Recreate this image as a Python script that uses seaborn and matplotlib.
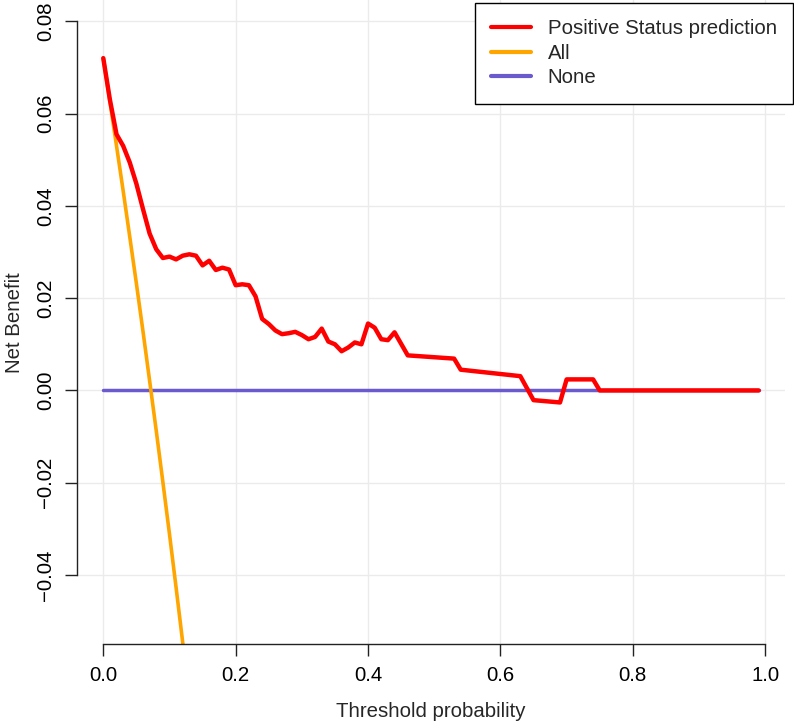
import numpy as np
import pandas as pd
import matplotlib
matplotlib.use("Agg")
import matplotlib.pyplot as plt
import seaborn as sns

# Decision curve data
model_x = [0.00, 0.01, 0.02, 0.03, 0.04, 0.05, 0.06, 0.07, 0.08, 0.09,
           0.10, 0.11, 0.12, 0.13, 0.14, 0.15, 0.16, 0.17, 0.18, 0.19,
           0.20, 0.21, 0.22, 0.23, 0.24, 0.25, 0.26, 0.27, 0.28, 0.29,
           0.30, 0.31, 0.32, 0.33, 0.34, 0.35, 0.36, 0.37, 0.38, 0.39,
           0.40, 0.41, 0.42, 0.43, 0.44, 0.45, 0.46, 0.53, 0.54, 0.63,
           0.65, 0.69, 0.70, 0.74, 0.75, 0.99]
model_y = [0.0720, 0.0630, 0.0555, 0.0530, 0.0494, 0.0448, 0.0393, 0.0340, 0.0306, 0.0287,
           0.0290, 0.0284, 0.0292, 0.0295, 0.0292, 0.0271, 0.0281, 0.0261, 0.0266, 0.0262,
           0.0228, 0.0230, 0.0228, 0.0204, 0.0155, 0.0144, 0.0130, 0.0122, 0.0124, 0.0127,
           0.0120, 0.0111, 0.0116, 0.0134, 0.0106, 0.0100, 0.0085, 0.0093, 0.0104, 0.0100,
           0.0145, 0.0136, 0.0111, 0.0109, 0.0126, 0.0101, 0.0076, 0.0069, 0.0045, 0.0031,
           -0.0021, -0.0026, 0.0024, 0.0024, 0.0000, 0.0000]

all_x = [0.00, 0.01, 0.02, 0.03, 0.04, 0.05, 0.06, 0.07, 0.08, 0.09, 0.10, 0.11, 0.12, 0.13]
all_y = [0.0720, 0.0626, 0.0530, 0.0433, 0.0333, 0.0232, 0.0128, 0.0021,
         -0.0087, -0.0198, -0.0311, -0.0427, -0.0546, -0.0667]

none_x = [0.00, 0.99]
none_y = [0.0, 0.0]

labels = ["Positive Status prediction", "All", "None"]
colors = ["#FF0000", "#FFA500", "#6A5ACD"]

sns.set_theme(style="white")
plt.rcParams['font.family'] = ['Liberation Sans', 'DejaVu Sans']
fs = 14.7

fig = plt.figure(figsize=(7.94, 7.25), dpi=100)
ax = fig.add_axes([77/794, 1 - 644.3/725, 708/794, 644.3/725])

# grid
for gx in [0.0, 0.2, 0.4, 0.6, 0.8, 1.0]:
    ax.axvline(gx, color="#EBEBEB", lw=1.0, zorder=0)
for gy in [-0.04, -0.02, 0.0, 0.02, 0.04, 0.06, 0.08]:
    ax.axhline(gy, color="#EBEBEB", lw=1.0, zorder=0)

sns.lineplot(x=none_x, y=none_y, color=colors[2], lw=2.5, ax=ax, label=labels[2],
             sort=False, estimator=None)
sns.lineplot(x=all_x, y=all_y, color=colors[1], lw=2.6, ax=ax, label=labels[1],
             sort=False, estimator=None)
sns.lineplot(x=model_x, y=model_y, color=colors[0], lw=3.2, ax=ax, label=labels[0],
             sort=False, estimator=None)

ax.set_xlim(-0.0397, 1.0299)
ax.set_ylim(-0.0550, 0.0846)

ax.set_xticks([0.0, 0.2, 0.4, 0.6, 0.8, 1.0])
ax.set_xticklabels(["0.0", "0.2", "0.4", "0.6", "0.8", "1.0"])
ax.set_yticks([-0.04, -0.02, 0.0, 0.02, 0.04, 0.06, 0.08])
ax.set_yticklabels(["\u22120.04", "\u22120.02", "0.00", "0.02", "0.04", "0.06", "0.08"])
for lbl in ax.get_yticklabels():
    lbl.set_rotation(90)
    lbl.set_va("center")
    lbl.set_ha("right")

ax.tick_params(axis="both", length=8.9, width=1.0, pad=6.6, labelsize=fs,
               colors="#222222", labelcolor="black", direction="out",
               bottom=True, left=True)

for side in ["top", "right"]:
    ax.spines[side].set_visible(False)
ax.spines["left"].set_bounds(-0.04, 0.08)
ax.spines["bottom"].set_bounds(0.0, 1.0)
for side in ["left", "bottom"]:
    ax.spines[side].set_color("#222222")
    ax.spines[side].set_linewidth(1.0)

ax.set_xlabel("Threshold probability", fontsize=fs, labelpad=12.5)
ax.set_ylabel("Net Benefit", fontsize=fs, labelpad=9)

handles, lbls = ax.get_legend_handles_labels()
order = [lbls.index(l) for l in labels]
leg = ax.legend([handles[i] for i in order], [lbls[i] for i in order],
                loc="upper right", bbox_to_anchor=(793/794, 1 - 2.7/725),
                bbox_transform=fig.transFigure, borderaxespad=0,
                fontsize=fs, frameon=True, fancybox=False, framealpha=1,
                edgecolor="black", handlelength=1.97, handletextpad=0.8,
                labelspacing=0.28, borderpad=0.8)
leg.get_frame().set_linewidth(1.0)
for line in leg.get_lines():
    line.set_linewidth(3.0)

fig.savefig("out.png", dpi=100)
